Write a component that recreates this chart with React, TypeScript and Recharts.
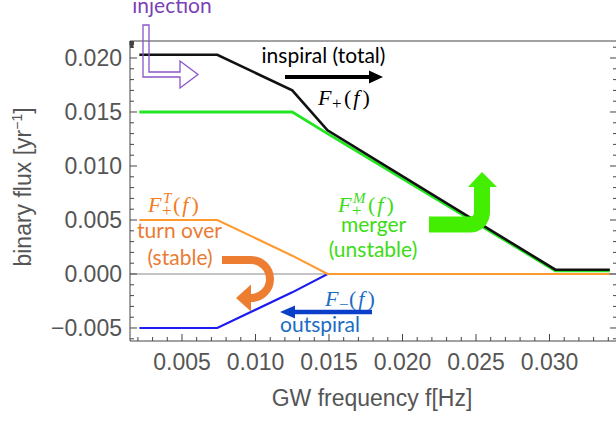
import React from "react";
import { LineChart, Line, XAxis, YAxis, ReferenceLine } from "recharts";

// ---- data ----
const freq = [0.0021, 0.0074, 0.0125, 0.0149, 0.0304, 0.0341];
const totalFlux = [0.0203, 0.0203, 0.017, 0.0133, 0.0004, 0.0004];
const mergerFlux = [0.015, 0.015, 0.015, 0.013, 0.0003, 0.0003];
const turnOverFlux = [0.005, 0.005, 0.0017, 0, 0, 0];
const outspiralFlux = [-0.005, -0.005, -0.0017, 0, 0, 0];

const xMajorTicks = [0.005, 0.01, 0.015, 0.02, 0.025, 0.03];
const xMajorLabels = ["0.005", "0.010", "0.015", "0.020", "0.025", "0.030"];
const xAllTicks = [
  0.002, 0.003, 0.004, 0.005, 0.006, 0.007, 0.008, 0.009, 0.01, 0.011, 0.012,
  0.013, 0.014, 0.015, 0.016, 0.017, 0.018, 0.019, 0.02, 0.021, 0.022, 0.023,
  0.024, 0.025, 0.026, 0.027, 0.028, 0.029, 0.03, 0.031, 0.032, 0.033, 0.034,
];
const yMajorTicks = [-0.005, 0, 0.005, 0.01, 0.015, 0.02];
const yMajorLabels = ["\u22120.005", "0.000", "0.005", "0.010", "0.015", "0.020"];
const yAllTicks = [
  -0.006, -0.005, -0.004, -0.003, -0.002, -0.001, 0, 0.001, 0.002, 0.003,
  0.004, 0.005, 0.006, 0.007, 0.008, 0.009, 0.01, 0.011, 0.012, 0.013, 0.014,
  0.015, 0.016, 0.017, 0.018, 0.019, 0.02, 0.021,
];

const X_DOMAIN = [0.001463, 0.034592];
const Y_DOMAIN = [-0.006204, 0.021574];

const rows = freq.map((f, i) => ({
  f,
  total: totalFlux[i],
  merger: mergerFlux[i],
  turnover: turnOverFlux[i],
  outspiral: outspiralFlux[i],
}));

const FRAME = "#454545";
const LABEL = "#555";
const SANS = "'Liberation Sans', Arial, sans-serif";
const NOTE = "Lato, 'Open Sans', sans-serif";
const SERIF = "'Liberation Serif', 'Times New Roman', serif";

const majorIndex = (list: number[], v: number) =>
  list.findIndex((t) => Math.abs(t - v) < 1e-9);

const XTickBottom = (p: any) => {
  const i = majorIndex(xMajorTicks, p.payload.value);
  const len = i >= 0 ? 7 : 4;
  return (
    <g>
      <line x1={p.x} y1={p.y} x2={p.x} y2={p.y - len} stroke={FRAME} />
      {i >= 0 && (
        <text x={p.x} y={p.y + 29} textAnchor="middle" fontFamily={SANS} fontSize={23} fill={LABEL}>
          {xMajorLabels[i]}
        </text>
      )}
    </g>
  );
};
const XTickTop = (p: any) => {
  const i = majorIndex(xMajorTicks, p.payload.value);
  const len = i >= 0 ? 7 : 4;
  return <line x1={p.x} y1={p.y} x2={p.x} y2={p.y + len} stroke={FRAME} />;
};
const YTickLeft = (p: any) => {
  const i = majorIndex(yMajorTicks, p.payload.value);
  const len = i >= 0 ? 7 : 4;
  return (
    <g>
      <line x1={p.x} y1={p.y} x2={p.x + len} y2={p.y} stroke={FRAME} />
      {i >= 0 && (
        <text x={p.x - 8} y={p.y + 8} textAnchor="end" fontFamily={SANS} fontSize={23} fill={LABEL}>
          {yMajorLabels[i]}
        </text>
      )}
    </g>
  );
};
const YTickRight = (p: any) => {
  const i = majorIndex(yMajorTicks, p.payload.value);
  const len = i >= 0 ? 7 : 4;
  return <line x1={p.x} y1={p.y} x2={p.x - len} y2={p.y} stroke={FRAME} />;
};

// math label like F_{sub}^{sup}(f)
const MathF = ({ x, y, color, sub, sup, parenDx }: any) => (
  <g fill={color} fontFamily={SERIF}>
    <text x={x} y={y} fontSize={22} fontStyle="italic">F</text>
    {sub && (
      <text x={x + 14} y={y + 4} fontSize={17}>{sub}</text>
    )}
    {sup && (
      <text x={x + 15} y={y - 9} fontSize={15} fontStyle="italic">{sup}</text>
    )}
    <text x={x + parenDx} y={y} fontSize={22}>
      <tspan>(</tspan>
      <tspan fontStyle="italic" dx={2}>f</tspan>
      <tspan dx={3}>)</tspan>
    </text>
  </g>
);

export default function App() {
  return (
    <div style={{ position: "absolute", left: 0, top: 0, width: 616, height: 421, overflow: "hidden", background: "#fff" }}>
      <LineChart width={621} height={421} data={rows} margin={{ top: 40, right: 3, bottom: 0, left: 0 }}>
        <XAxis
          xAxisId="b"
          dataKey="f"
          type="number"
          orientation="bottom"
          domain={X_DOMAIN}
          allowDataOverflow
          ticks={xAllTicks}
          interval={0}
          height={80}
          tickSize={0}
          tickMargin={0}
          tickLine={false}
          axisLine={{ stroke: FRAME }}
          tick={XTickBottom}
        />
        <XAxis
          xAxisId="t"
          type="number"
          orientation="top"
          domain={X_DOMAIN}
          allowDataOverflow
          ticks={xAllTicks}
          interval={0}
          height={1}
          tickSize={0}
          tickMargin={0}
          tickLine={false}
          axisLine={{ stroke: FRAME }}
          tick={XTickTop}
        />
        <YAxis
          yAxisId="l"
          type="number"
          orientation="left"
          domain={Y_DOMAIN}
          allowDataOverflow
          ticks={yAllTicks}
          interval={0}
          width={130}
          tickSize={0}
          tickMargin={0}
          tickLine={false}
          axisLine={{ stroke: FRAME }}
          tick={YTickLeft}
        />
        <YAxis
          yAxisId="r"
          type="number"
          orientation="right"
          domain={Y_DOMAIN}
          allowDataOverflow
          ticks={yAllTicks}
          interval={0}
          width={1}
          tickSize={0}
          tickMargin={0}
          tickLine={false}
          axisLine={{ stroke: FRAME }}
          tick={YTickRight}
        />
        <ReferenceLine xAxisId="b" yAxisId="l" y={0} stroke="#8a8a8a" strokeWidth={1} />
        <Line xAxisId="b" yAxisId="l" dataKey="outspiral" stroke="#1c1cf0" strokeWidth={2.2} dot={false} isAnimationActive={false} />
        <Line xAxisId="b" yAxisId="l" dataKey="turnover" stroke="#ff9a30" strokeWidth={2.2} dot={false} isAnimationActive={false} />
        <Line xAxisId="b" yAxisId="l" dataKey="merger" stroke="#22e622" strokeWidth={2.8} dot={false} isAnimationActive={false} />
        <Line xAxisId="b" yAxisId="l" dataKey="total" stroke="#111" strokeWidth={2.6} dot={false} isAnimationActive={false} />
      </LineChart>

      <svg width={616} height={421} style={{ position: "absolute", left: 0, top: 0, pointerEvents: "none" }}>
        {/* axis titles */}
        <text x={372} y={406} textAnchor="middle" fontFamily={SANS} fontSize={23} fill={LABEL}>
          GW frequency f[Hz]
        </text>
        <text x={31} y={187} textAnchor="middle" fontFamily={SANS} fontSize={23} fill={LABEL} transform="rotate(-90 31 187)">
          binary flux [yr<tspan dy={-9} fontSize={14}>{"\u22121"}</tspan><tspan dy={9}>]</tspan>
        </text>

        {/* injection */}
        <text x={172} y={13} textAnchor="middle" fontFamily={NOTE} fontSize={21} fill="#7b3fb6">injection</text>
        <path d="M143,25 H149 V72 H180 V61 L198,74.5 L180,88 V77 H143 Z" fill="none" stroke="#8a55c8" strokeWidth={1.3} />

        {/* inspiral */}
        <text x={323.5} y={63} textAnchor="middle" fontFamily={NOTE} fontSize={21} fill="#000">inspiral (total)</text>
        <line x1={285} y1={77} x2={370} y2={77} stroke="#000" strokeWidth={4} />
        <path d="M369,70.5 L383,77 L369,83.5 Z" fill="#000" />
        <MathF x={318} y={105} color="#000" sub="+" parenDx={26} />

        {/* turn over */}
        <MathF x={148} y={212} color="#f07d1e" sub="+" sup="T" parenDx={25} />
        <text x={179.5} y={238} textAnchor="middle" fontFamily={NOTE} fontSize={21} fill="#ea7b33">turn over</text>
        <text x={180} y={265} textAnchor="middle" fontFamily={NOTE} fontSize={21} fill="#ea7b33">(stable)</text>
        <path d="M222,260 H251 A19,19 0 0 1 251,298" fill="none" stroke="#ed7d31" strokeWidth={8} />
        <path d="M236,298 L251,284.5 L251,311.5 Z" fill="#ed7d31" />

        {/* merger */}
        <MathF x={338} y={212} color="#3cdc14" sub="+" sup="M" parenDx={30} />
        <text x={373.5} y={232} textAnchor="middle" fontFamily={NOTE} fontSize={21} fill="#3cdc14">merger</text>
        <text x={373} y={257} textAnchor="middle" fontFamily={NOTE} fontSize={21} fill="#3cdc14">(unstable)</text>
        <path d="M429,224.5 H470 A12,12 0 0 0 482,212.5 V186" fill="none" stroke="#44ee00" strokeWidth={16} />
        <path d="M468,187 L482,172 L497,187 Z" fill="#44ee00" />

        {/* outspiral */}
        <MathF x={325} y={306} color="#1b6cc4" sub={"\u2212"} parenDx={24} />
        <line x1={294} y1={312} x2={372} y2={312} stroke="#0b3fc9" strokeWidth={4.5} />
        <path d="M280,312 L295,305.5 L295,318.5 Z" fill="#0b3fc9" />
        <text x={320} y={332} textAnchor="middle" fontFamily={NOTE} fontSize={21} fill="#1b6cc4">outspiral</text>
      </svg>
    </div>
  );
}
